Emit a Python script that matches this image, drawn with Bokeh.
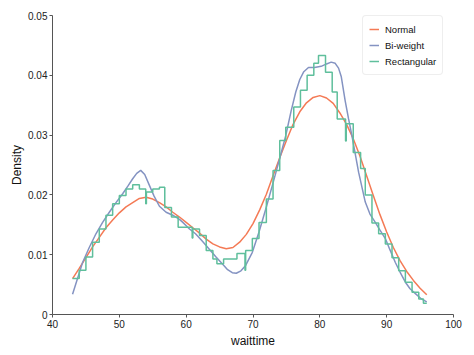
from bokeh.plotting import figure
from bokeh.models import Range1d, FixedTicker, Legend, LegendItem
from bokeh.embed import file_html
from bokeh.resources import INLINE

# ---- data ----
normal_x = [43.0, 44.0, 45.0, 46.0, 47.0, 48.0, 49.0, 50.0, 51.0, 52.0, 53.0, 54.0, 55.0,
            56.0, 57.0, 58.0, 59.0, 60.0, 61.0, 62.0, 63.0, 64.0, 65.0, 66.0, 67.0, 68.0,
            69.0, 70.0, 71.0, 72.0, 73.0, 74.0, 75.0, 76.0, 77.0, 78.0, 79.0, 80.0, 81.0,
            82.0, 83.0, 84.0, 85.0, 86.0, 87.0, 88.0, 89.0, 90.0, 91.0, 92.0, 93.0, 94.0,
            95.0, 96.0]
normal_y = [0.0060, 0.0077, 0.0095, 0.0113, 0.0129, 0.0145, 0.0158, 0.0170, 0.0180, 0.0187,
            0.0194, 0.0196, 0.0193, 0.0187, 0.0180, 0.0171, 0.0163, 0.0154, 0.0145, 0.0136,
            0.0126, 0.0118, 0.0113, 0.0110, 0.0112, 0.0121, 0.0134, 0.0152, 0.0175, 0.0201,
            0.0232, 0.0262, 0.0291, 0.0318, 0.0339, 0.0354, 0.0363, 0.0366, 0.0362, 0.0353,
            0.0337, 0.0318, 0.0294, 0.0265, 0.0232, 0.0199, 0.0167, 0.0138, 0.0112, 0.0090,
            0.0072, 0.0057, 0.0044, 0.0033]

biweight_x = [43.0, 44.5, 45.5, 46.5, 47.5, 48.5, 49.5, 50.5, 51.3, 52.0, 52.6, 53.2, 53.8,
              54.5, 55.2, 56.0, 57.0, 58.0, 59.0, 59.5, 60.5, 61.4, 62.4, 63.4, 64.4, 65.4,
              66.2, 66.9, 67.5, 68.2, 68.9, 69.9, 70.9, 71.9, 72.9, 73.9, 74.9, 75.7, 76.4,
              77.0, 77.6, 78.3, 79.2, 80.2, 81.0, 81.7, 82.3, 82.8, 83.2, 83.8, 84.3, 84.8,
              85.8, 86.8, 87.5, 88.3, 89.0, 89.8, 90.5, 91.3, 92.0, 92.8, 93.5, 94.3, 95.2,
              96.0]
biweight_y = [0.0034, 0.0087, 0.0112, 0.0135, 0.0154, 0.0171, 0.0187, 0.0202, 0.0215, 0.0227,
              0.0236, 0.0241, 0.0234, 0.0216, 0.0198, 0.0181, 0.0171, 0.0166, 0.0159, 0.0154,
              0.0143, 0.0135, 0.0123, 0.0110, 0.0097, 0.0085, 0.0075, 0.0070, 0.0069, 0.0073,
              0.0082, 0.0104, 0.0138, 0.0176, 0.0216, 0.0257, 0.0299, 0.0340, 0.0372, 0.0393,
              0.0406, 0.0413, 0.0413, 0.0415, 0.0419, 0.0422, 0.0420, 0.0412, 0.0398, 0.0357,
              0.0327, 0.0299, 0.0238, 0.0188, 0.0168, 0.0154, 0.0141, 0.0127, 0.0108, 0.0087,
              0.0071, 0.0054, 0.0043, 0.0035, 0.0026, 0.0021]

# rectangular kernel: step start positions and level held until the next start
rect_x = [43.0, 44.0, 45.0, 46.0, 47.0, 48.0, 49.0, 50.0, 51.0, 52.0, 53.0, 53.95, 54.05,
          55.0, 56.0, 56.8, 57.8, 58.8, 60.9, 61.0, 62.0, 63.0, 64.0, 64.6, 65.6, 67.6,
          68.8, 68.9, 69.9, 70.9, 72.0, 73.0, 74.0, 74.9, 76.1, 77.1, 78.1, 79.1, 79.8,
          80.85, 81.85, 82.6, 83.85, 83.95, 85.0, 86.1, 86.8, 87.8, 88.8, 89.8, 90.8, 91.8,
          92.8, 93.8, 94.8, 95.5, 96.0]
rect_y = [0.0060, 0.0074, 0.0096, 0.0121, 0.0143, 0.0166, 0.0185, 0.0199, 0.0210, 0.0217,
          0.0210, 0.0185, 0.0205, 0.0210, 0.0213, 0.0179, 0.0163, 0.0146, 0.0128, 0.0143,
          0.0132, 0.0107, 0.0093, 0.0085, 0.0093, 0.0102, 0.0074, 0.0107, 0.0127, 0.0154,
          0.0193, 0.0241, 0.0291, 0.0313, 0.0347, 0.0375, 0.0400, 0.0420, 0.0433, 0.0405,
          0.0372, 0.0327, 0.0290, 0.0319, 0.0271, 0.0244, 0.0200, 0.0153, 0.0135, 0.0118,
          0.0095, 0.0073, 0.0054, 0.0037, 0.0026, 0.0019, 0.0019]

x_ticks = [40, 50, 60, 70, 80, 90, 100]
y_ticks = [0, 0.01, 0.02, 0.03, 0.04, 0.05]
y_tick_labels = ["0", "0.01", "0.02", "0.03", "0.04", "0.05"]
series_names = ["Normal", "Bi-weight", "Rectangular"]
colors = ["#f47a55", "#8493c2", "#5fbf9c"]

FONT = "Liberation Sans"

p = figure(width=474, height=355, output_backend="svg", toolbar_location=None,
           x_range=Range1d(40, 100), y_range=Range1d(0, 0.05),
           min_border_left=52, min_border_right=21, min_border_top=15, min_border_bottom=41)
p.outline_line_color = None
p.grid.visible = False
p.background_fill_color = "white"
p.border_fill_color = "white"

r1 = p.line(normal_x, normal_y, line_color=colors[0], line_width=1.5)
r2 = p.line(biweight_x, biweight_y, line_color=colors[1], line_width=1.5)
r3 = p.step(rect_x, rect_y, mode="after", line_color=colors[2], line_width=1.5)

for ax in (p.xaxis[0], p.yaxis[0]):
    ax.axis_line_color = "#555555"
    ax.major_tick_line_color = "#555555"
    ax.minor_tick_line_color = None
    ax.major_tick_in = 0
    ax.major_tick_out = 3
    ax.major_label_text_font = FONT
    ax.major_label_text_font_size = "10px"
    ax.major_label_text_color = "#222222"
    ax.axis_label_text_font = FONT
    ax.axis_label_text_font_size = "12px"
    ax.axis_label_text_font_style = "normal"
    ax.axis_label_text_color = "#111111"

p.xaxis.ticker = FixedTicker(ticks=x_ticks)
p.yaxis.ticker = FixedTicker(ticks=y_ticks)
p.yaxis.major_label_overrides = {t: s for t, s in zip(y_ticks, y_tick_labels)}
p.xaxis.axis_label = "waittime"
p.yaxis.axis_label = "Density"
p.xaxis.major_label_standoff = 2
p.yaxis.major_label_standoff = 2
p.xaxis.axis_label_standoff = 3
p.yaxis.axis_label_standoff = 1

legend = Legend(items=[LegendItem(label=series_names[0], renderers=[r1]),
                       LegendItem(label=series_names[1], renderers=[r2]),
                       LegendItem(label=series_names[2], renderers=[r3])],
                location=(310, 239))
legend.label_text_font = FONT
legend.label_text_font_size = "9.5px"
legend.label_text_color = "#111111"
legend.glyph_width = 10
legend.glyph_height = 14
legend.label_height = 14
legend.label_standoff = 6
legend.spacing = 2
legend.padding = 6
legend.margin = 0
legend.border_line_color = "#dddddd"
legend.border_line_width = 1
legend.background_fill_color = "white"
legend.background_fill_alpha = 1.0
try:
    legend.border_radius = 4
except Exception:
    pass
p.add_layout(legend)

open("out.html", "w").write(file_html(p, INLINE))
